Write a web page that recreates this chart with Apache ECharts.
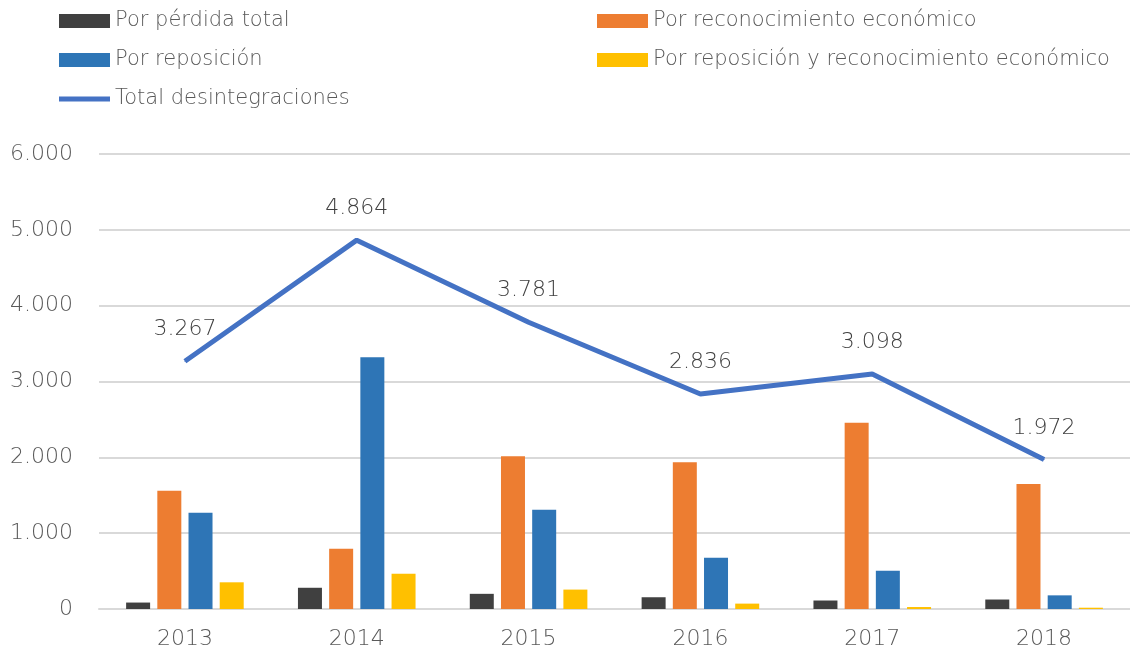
<!DOCTYPE html>
<html lang="es">
<head>
    <meta charset="UTF-8">
    <title>Desintegraciones</title>
    <style>
        html, body { margin: 0; padding: 0; background: #fff; }
    </style>
</head>
<body>
<div id="main" style="width: 1130px;height:653px;"></div>
<script type="text/javascript" src="https://cdn.jsdelivr.net/npm/echarts@6/dist/echarts.min.js"></script>
<script>
    var years = ['2013', '2014', '2015', '2016', '2017', '2018'];
    var perdidaTotal = [85, 280, 200, 155, 112, 125];
    var reconocimiento = [1560, 795, 2015, 1935, 2455, 1650];
    var reposicion = [1270, 3320, 1310, 675, 505, 180];
    var reposicionReconoc = [352, 465, 256, 71, 26, 17];
    var totalDesint = [3267, 4864, 3781, 2836, 3098, 1972];
    var yTicks = [0, 1000, 2000, 3000, 4000, 5000, 6000];

    var FONT = 'DejaVu Sans';
    var TXT = '#595959';

    function miles(v) {
        return String(v).replace(/\B(?=(\d{3})+(?!\d))/g, '.');
    }

    var myChart = echarts.init(document.getElementById('main'));

    var legendText = { fontFamily: FONT, fontSize: 21, fontWeight: 200, color: TXT, lineHeight: 24 };

    var option = {
        animation: false,
        legend: [
            {
                orient: 'vertical',
                left: 59, top: 9, padding: 0,
                itemWidth: 51, itemHeight: 14, itemGap: 15,
                textStyle: legendText,
                data: [
                    { name: 'Por pérdida total', icon: 'rect' },
                    { name: 'Por reposición', icon: 'rect' },
                    { name: 'Total desintegraciones', icon: 'path://M0,0 L51,0 L51,5 L0,5 Z' }
                ]
            },
            {
                orient: 'vertical',
                left: 597, top: 9, padding: 0,
                itemWidth: 51, itemHeight: 14, itemGap: 15,
                textStyle: legendText,
                data: [
                    { name: 'Por reconocimiento económico', icon: 'rect' },
                    { name: 'Por reposición y reconocimiento económico', icon: 'rect' }
                ]
            }
        ],
        grid: { left: 99, top: 154, width: 1038, bottom: 44 },
        xAxis: {
            type: 'category',
            data: years,
            axisLine: { lineStyle: { color: '#d9d9d9', width: 2 } },
            axisTick: { show: false },
            axisLabel: { fontFamily: FONT, fontSize: 22, fontWeight: 200, color: TXT, margin: 19 }
        },
        yAxis: {
            type: 'value',
            min: yTicks[0], max: yTicks[yTicks.length - 1], interval: 1000,
            axisLine: { show: false },
            axisTick: { show: false },
            splitLine: { lineStyle: { color: '#d9d9d9', width: 2 } },
            axisLabel: {
                fontFamily: FONT, fontSize: 22, fontWeight: 200, color: TXT, margin: 26,
                formatter: miles
            }
        },
        series: [
            { name: 'Por pérdida total', type: 'bar', barWidth: 24, barGap: '30%', data: perdidaTotal,
              itemStyle: { color: '#404040' } },
            { name: 'Por reconocimiento económico', type: 'bar', barWidth: 24, barGap: '30%', data: reconocimiento,
              itemStyle: { color: '#ed7d31' } },
            { name: 'Por reposición', type: 'bar', barWidth: 24, barGap: '30%', data: reposicion,
              itemStyle: { color: '#2e75b6' } },
            { name: 'Por reposición y reconocimiento económico', type: 'bar', barWidth: 24, barGap: '30%', data: reposicionReconoc,
              itemStyle: { color: '#ffc000' } },
            {
                name: 'Total desintegraciones', type: 'line', data: totalDesint,
                symbol: 'circle', symbolSize: 1, showSymbol: true,
                lineStyle: { color: '#4472c4', width: 5 },
                itemStyle: { color: '#4472c4' },
                label: {
                    show: true, position: 'top', distance: 20,
                    fontFamily: FONT, fontSize: 22, fontWeight: 200, color: '#404040',
                    formatter: function (p) { return miles(p.value); }
                }
            }
        ]
    };

    myChart.setOption(option);
</script>
</body>
</html>
